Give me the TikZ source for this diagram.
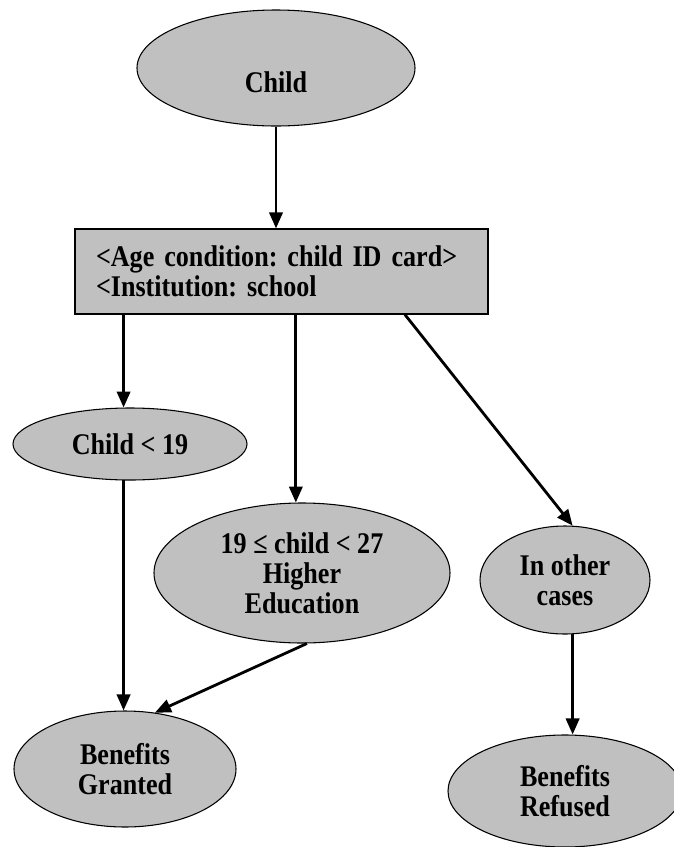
\documentclass[tikz,border=0pt]{standalone}
\usepackage{fontspec}
\setmainfont{Liberation Serif}[FakeStretch=0.87]
\usepackage{tikz}
\usetikzlibrary{shapes.geometric, arrows.meta, calc}

\definecolor{shade}{RGB}{192,192,192}

\begin{document}
\frenchspacing
\begin{tikzpicture}[x=0.75pt, y=-0.75pt,
    blob/.style={ellipse, draw, fill=shade, line width=0.8pt, inner sep=0pt, align=center,
        font=\bfseries\fontsize{22.5}{22.5}\selectfont},
    rulebox/.style={rectangle, draw, fill=shade, line width=0.9pt, minimum width=309.75pt,
        minimum height=63.75pt, inner xsep=15.75pt, text width=278.25pt, align=left,
        font=\bfseries\fontsize{22.5}{22.5}\selectfont},
    link/.style={line width=2.1pt, -{Triangle[length=12pt, width=10pt]}}]
            \useasboundingbox (0,0) rectangle (674,847);

            % Nodes
            \node[blob, minimum width=208.5pt, minimum height=87pt] (child) at (276, 68) {\raisebox{-11pt}[\height][\depth]{Child}};
            \node[rulebox] (box) at (281.5, 271.5) {<Age condition: child ID card>\\<Institution: school};
            \node[blob, minimum width=175.5pt, minimum height=54pt] (young) at (130, 444) {Child < 19};
            \node[blob, minimum width=222pt, minimum height=105pt] (higher) at (302, 573) {19 ≤ child < 27\\Higher\\Education};
            \node[blob, minimum width=127.5pt, minimum height=81pt] (other) at (565, 580) {In other\\cases};
            \node[blob, minimum width=166.5pt, minimum height=87pt] (granted) at (125, 769) {Benefits\\Granted};
            \node[blob, minimum width=175.5pt, minimum height=84pt] (refused) at (565, 791) {Benefits\\Refused};

            % Lines
            \draw[link] (child.south) -- (child.south |- box.north);
            \draw[link] (box.south -| young.100) -- (young.100);
            \draw[link] (box.south -| higher.95) -- (higher.95);
            \draw[link] ($(box.south west)!0.798!(box.south east)$) -- (other.82);
            \draw[link] (young.260) -- (young.260 |- granted.north);
            \draw[link] (higher.-86) -- (granted.62);
            \draw[link] (other.-82) -- (other.-82 |- refused.north);
        \end{tikzpicture}
\end{document}
